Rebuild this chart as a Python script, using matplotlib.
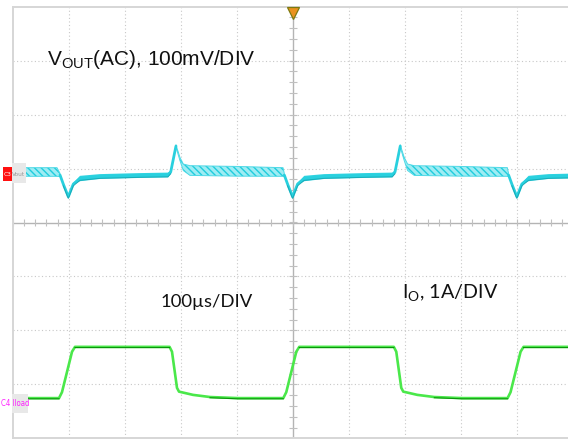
import numpy as np
import matplotlib
matplotlib.use("Agg")
import matplotlib.pyplot as plt
import matplotlib.transforms as mtransforms
from matplotlib.patches import Rectangle

# ---- Scope settings ----
TIME_PER_DIV_US = 100.0
VOUT_MV_PER_DIV = 100.0
ILOAD_A_PER_DIV = 1.0
VOUT_OFFSET_DIV = 0.917     # channel 3 reference marker position
ILOAD_OFFSET_DIV = -3.355   # channel 4 reference marker position

# ---- Channel 3: output voltage (AC coupled), mV ----
t_vout_us = [0, 79, 84.4, 90.2, 99.2, 108.1, 120, 155.7, 227, 277, 281.8,
             291.2, 298.3, 304.3, 316.2, 400, 482.1,
             484.4, 490.2, 499.2, 508.1, 520, 555.7, 627, 677, 681.8,
             691.2, 698.3, 704.3, 716.2, 800, 882.1,
             884.4, 890.2, 899.2, 908.1, 920, 955.7, 1000]
vout_mv = [1.9, 1.9, -3.7, -20.4, -43.9, -20.4, -10.2, -6.5, -4.6, -3.7, 1.9,
           50.0, 26.0, 10.6, 4.6, 3.2, 1.9,
           -3.7, -20.4, -43.9, -20.4, -10.2, -6.5, -4.6, -3.7, 1.9,
           50.0, 26.0, 10.6, 4.6, 3.2, 1.9,
           -3.7, -20.4, -43.9, -20.4, -10.2, -6.5, -5.5]
# half width of the trace envelope, mV
vout_ripple_mv = [8, 8, 3, 2, 2, 2, 5, 4.5, 4.5, 4.5, 3,
                  2, 3, 6, 9, 9, 8,
                  3, 2, 2, 2, 5, 4.5, 4.5, 4.5, 3,
                  2, 3, 6, 9, 9, 8,
                  3, 2, 2, 2, 5, 4.5, 4.5]
# load state per point (True = light load, switching ripple visible)
vout_light_load = [True, True, True, False, False, False, False, False, False, False, False,
                   True, True, True, True, True, True,
                   True, False, False, False, False, False, False, False, False,
                   True, True, True, True, True, True,
                   True, False, False, False, False, False, False]

# ---- Channel 4: load current, A ----
t_load_us = [0, 82.6, 87.9, 105.8, 111.1, 279.7, 284.1, 293.0, 296.6, 321.6, 351.9, 401.9,
             482.6, 487.9, 505.8, 511.1, 679.7, 684.1, 693.0, 696.6, 721.6, 751.9, 801.9,
             882.6, 887.9, 905.8, 911.1, 1000]
iload_a = [0.10, 0.10, 0.21, 0.96, 1.05, 1.05, 0.96, 0.29, 0.22, 0.16, 0.12, 0.10,
           0.10, 0.21, 0.96, 1.05, 1.05, 0.96, 0.29, 0.22, 0.16, 0.12, 0.10,
           0.10, 0.21, 0.96, 1.05, 1.05]

W, H = 568, 440
fig = plt.figure(figsize=(W / 100, H / 100), dpi=100)
fig.patch.set_facecolor("white")

# screen area: 10 x 8 divisions (right edge runs slightly past the frame)
left_px, top_px, bottom_px, div_w_px = 12.7, 6.7, 438.3, 56.07
ax = fig.add_axes([left_px / W, 1 - bottom_px / H,
                   10 * div_w_px / W, (bottom_px - top_px) / H])
ax.set_xlim(0, 10 * TIME_PER_DIV_US)
ax.set_ylim(-4, 4)
ax.set_xticks([])
ax.set_yticks([])
for side in ("left", "top", "bottom"):
    ax.spines[side].set_color("#d6d6d6")
    ax.spines[side].set_linewidth(1.4)
ax.spines["right"].set_visible(False)

# graticule
grid_kw = dict(color="#c8c8c8", lw=0.8, linestyle=(0, (1, 2.2)), zorder=1)
for k in range(1, 10):
    if k != 5:
        ax.axvline(k * TIME_PER_DIV_US, **grid_kw)
for k in range(-3, 4):
    if k != 0:
        ax.axhline(k, **grid_kw)
ax.axhline(0, color="#b4b4b4", lw=1.0, zorder=1)
ax.axvline(500, color="#b4b4b4", lw=1.0, zorder=1)
minor_x = np.arange(0, 1000.1, TIME_PER_DIV_US / 5)
ax.vlines(minor_x, -0.07, 0.07, color="#c0c0c0", lw=0.8, zorder=1)
minor_y = np.arange(-4, 4.01, 0.2)
ax.hlines(minor_y, 500 - 6.5, 500 + 6.5, color="#c0c0c0", lw=0.8, zorder=1)

# ---- output voltage trace ----
t_v = np.array(t_vout_us)
v_div = VOUT_OFFSET_DIV + np.array(vout_mv) / VOUT_MV_PER_DIV
r_div = np.array(vout_ripple_mv) / VOUT_MV_PER_DIV
light = np.array(vout_light_load)
heavy = ~light
# keep the boundary points in both segments so the trace stays continuous
edges = np.flatnonzero(np.diff(light.astype(int)) != 0)
heavy[edges] = True
heavy[edges + 1] = True

plt.rcParams["hatch.linewidth"] = 1.0
ax.fill_between(t_v, v_div - r_div, v_div + r_div, where=light,
                facecolor="#9eecf3", edgecolor="#20cddd", hatch="\\\\\\\\\\",
                lw=0, zorder=3)
ax.plot(t_v, np.ma.masked_where(~light, v_div + r_div), color="#4fd9e6", lw=0.7, zorder=3)
ax.plot(t_v, np.ma.masked_where(~light, v_div - r_div), color="#4fd9e6", lw=0.7, zorder=3)
ax.fill_between(t_v, v_div - r_div, v_div + r_div, where=~light,
                facecolor="#2fd3e1", lw=0, zorder=3)
ax.plot(t_v, np.ma.masked_where(~heavy, v_div), color="#29d0de", lw=2.0,
        zorder=4, solid_joinstyle="round", solid_capstyle="round")
low_edge = mtransforms.offset_copy(ax.transData, fig=fig, y=-1.3, units="points")
ax.plot(t_v, np.ma.masked_where(light, v_div), color="#12a2ae", lw=0.7,
        zorder=4, transform=low_edge, alpha=0.8)

# ---- load current trace ----
t_i = np.array(t_load_us)
i_div = ILOAD_OFFSET_DIV + np.array(iload_a) / ILOAD_A_PER_DIV
ax.plot(t_i, i_div, color="#4ae84a", lw=1.9, zorder=5, solid_joinstyle="round")
flat = np.array([abs(a - b) < 0.02 for a, b in zip(iload_a[:-1], iload_a[1:])] + [False])
flat_mask = flat.copy()
flat_mask[1:] |= flat[:-1]
dark_edge = mtransforms.offset_copy(ax.transData, fig=fig, y=-0.5, units="points")
ax.plot(t_i, np.ma.masked_where(~flat_mask, i_div), color="#0b950b", lw=0.8,
        zorder=6, transform=dark_edge)

# trigger position marker
ax.plot(500, 3.89, marker="v", ms=9, mfc="#ea921e", mec="#7c7a10", mew=0.9,
        clip_on=False, zorder=10)


def px_rect(x0, y0, x1, y1, color):
    fig.add_artist(Rectangle((x0 / W, 1 - y1 / H), (x1 - x0) / W, (y1 - y0) / H,
                             transform=fig.transFigure, facecolor=color,
                             edgecolor="none", zorder=20))


# channel reference markers
px_rect(12, 163, 26, 183, "#e8e8e8")
px_rect(3, 167, 12, 181, "#ff1010")
fig.text(7.5 / W, 1 - 174 / H, "C3", color="white", fontsize=4.2,
         ha="center", va="center", zorder=21)
fig.text(19 / W, 1 - 174 / H, "Vout", color="#9a9a9a", fontsize=4.2,
         ha="center", va="center", zorder=21)
px_rect(12, 394, 28, 413, "#e8e8e8")
fig.text(15 / W, 1 - 403.5 / H, "C4 Iload", color="#ff22ff", fontsize=5.6,
         fontstretch="condensed", ha="center", va="center", zorder=21)

# annotations
fig.text(47 / W, 1 - 65 / H, r"$\mathregular{V_{OUT}}$(AC), 100mV/DIV",
         family="Liberation Sans", fontsize=15, color="#111111",
         ha="left", va="baseline", zorder=22)
fig.text(161 / W, 1 - 306.5 / H, "100\u00b5s/DIV", family="Lato",
         fontsize=13.3, color="#111111", ha="left", va="baseline", zorder=22)
fig.text(402 / W, 1 - 298 / H, r"$\mathregular{I_{O}}$, 1A/DIV", family="Lato",
         fontsize=14.2, color="#111111", ha="left", va="baseline", zorder=22)

fig.savefig("out.png", dpi=100)
